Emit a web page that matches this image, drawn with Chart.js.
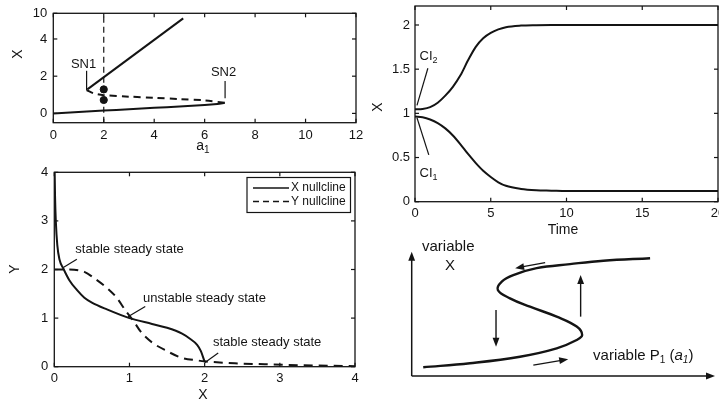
<!DOCTYPE html>
<html><head><meta charset="utf-8">
<script src="https://cdn.jsdelivr.net/npm/chart.js@4.4.0/dist/chart.umd.min.js"></script>
<style>
html,body{margin:0;padding:0;background:#fff;width:719px;height:405px;overflow:hidden;position:relative}
.p{position:absolute}
</style></head><body>
<div class="p" id="d1" style="left:0;top:0;width:370px;height:160px"><canvas id="k1"></canvas></div>
<div class="p" id="d3" style="left:0;top:160px;width:370px;height:245px"><canvas id="k3"></canvas></div>
<div class="p" id="d4" style="left:380px;top:235px;width:339px;height:170px"><canvas id="k4"></canvas></div>
<div class="p" id="d2" style="left:360px;top:0;width:380px;height:240px"><canvas id="k2"></canvas></div>
<script>
const FONT = "'Liberation Sans', Arial, Helvetica, sans-serif";
const INK = '#141414';
Chart.defaults.font.family = FONT;
Chart.defaults.color = INK;
Chart.defaults.animation = false;

// ---------- Panel 1: bifurcation diagram (X vs a1, broken axis above 4) ----------
const p1XTicks = [0, 2, 4, 6, 8, 10, 12];
const p1YTickValues = [0, 2, 4, 5.38];
const p1YTickLabels = ['0', '2', '4', '10'];
const p1UpperA = [1.35, 5.15];
const p1UpperX = [1.29, 5.11];
const p1UnstableA = [1.32, 1.6, 2, 3, 4, 5, 6, 6.8];
const p1UnstableX = [1.25, 1.08, 0.98, 0.9, 0.84, 0.77, 0.7, 0.57];
const p1LowerA = [0, 1, 2, 3, 4, 5, 6, 6.5, 6.8];
const p1LowerX = [0, 0.07, 0.15, 0.22, 0.3, 0.37, 0.45, 0.51, 0.57];
const p1DotsA = [2, 2];
const p1DotsX = [1.29, 0.72];
const p1MarkA = [2, 2];
const p1MarkX = [-0.5, 5.38];

// ---------- Panel 2: time courses ----------
const p2XTicks = [0, 5, 10, 15, 20];
const p2YTicks = [0, 0.5, 1, 1.5, 2];
const p2YTickLabels = ['0', '0.5', '1', '1.5', '2'];
const p2Time = [0, 0.5, 1, 1.5, 2, 2.5, 3, 3.5, 4, 4.5, 5, 5.5, 6, 7, 8, 9, 10, 12, 15, 20];
const p2CI2 = [1.045, 1.05, 1.07, 1.12, 1.2, 1.3, 1.43, 1.6, 1.75, 1.85, 1.91, 1.95, 1.975, 1.993, 1.998, 2.0, 2.0, 2.0, 2.0, 2.0];
const p2CI1 = [0.965, 0.955, 0.93, 0.89, 0.83, 0.75, 0.65, 0.54, 0.44, 0.35, 0.28, 0.22, 0.18, 0.145, 0.13, 0.125, 0.12, 0.12, 0.12, 0.12];

// ---------- Panel 3: nullclines ----------
const p3Ticks = [0, 1, 2, 3, 4];
const p3XnullX = [0.005, 0.01, 0.02, 0.04, 0.07, 0.12, 0.2, 0.3, 0.4, 0.5, 0.7, 1.0, 1.3, 1.5, 1.7, 1.8, 1.9, 1.95, 2.0];
const p3XnullY = [4.0, 3.5, 3.0, 2.5, 2.2, 2.02, 1.78, 1.58, 1.42, 1.32, 1.18, 1.0, 0.88, 0.8, 0.68, 0.58, 0.45, 0.32, 0.1];
const p3YnullX = [0, 0.2, 0.4, 0.55, 0.7, 0.83, 0.95, 1.05, 1.15, 1.3, 1.5, 1.7, 1.9, 2.0, 2.4, 2.8, 3.3, 4.0];
const p3YnullY = [2.0, 2.0, 1.95, 1.8, 1.62, 1.42, 1.15, 0.95, 0.72, 0.5, 0.32, 0.18, 0.13, 0.11, 0.07, 0.05, 0.03, 0.01];

// ---------- Panel 4: hysteresis schematic ----------
const p4CurveX = [0.38, 1.92, 3.57, 4.78, 5.44, 5.62, 5.44, 4.78, 3.90, 3.24, 2.84, 2.97, 3.35, 4.12, 5.22, 6.32, 7.86];
const p4CurveY = [0.28, 0.41, 0.62, 0.89, 1.16, 1.32, 1.59, 1.91, 2.23, 2.50, 2.77, 3.04, 3.25, 3.47, 3.60, 3.71, 3.79];
const p4ArrowFrom = [[4.40, 3.65], [5.57, 1.91], [2.78, 2.12], [4.01, 0.35]];
const p4ArrowTo = [[3.41, 3.47], [5.57, 3.25], [2.78, 0.94], [5.16, 0.54]];

const pts = (xs, ys) => xs.map((x, i) => ({x, y: ys[i]}));

function drawRich(ctx, parts, x, y, align, rot) {
  let w = 0;
  parts.forEach(p => { ctx.font = (p.it ? 'italic ' : '') + p.s + 'px ' + FONT; p.w = ctx.measureText(p.t).width; w += p.w; });
  ctx.save(); ctx.translate(x, y); if (rot) ctx.rotate(rot);
  let cx = align === 'center' ? -w / 2 : align === 'right' ? -w : 0;
  ctx.textBaseline = 'middle'; ctx.textAlign = 'left'; ctx.fillStyle = INK;
  parts.forEach(p => { ctx.font = (p.it ? 'italic ' : '') + p.s + 'px ' + FONT; ctx.fillText(p.t, cx, p.dy || 0); cx += p.w; });
  ctx.restore();
}
function line(ctx, x1, y1, x2, y2) { ctx.beginPath(); ctx.moveTo(x1, y1); ctx.lineTo(x2, y2); ctx.stroke(); }
function arrow(ctx, x1, y1, x2, y2, head, lw) {
  const a = Math.atan2(y2 - y1, x2 - x1);
  ctx.lineWidth = lw;
  line(ctx, x1, y1, x2 - Math.cos(a) * head * 0.6, y2 - Math.sin(a) * head * 0.6);
  ctx.beginPath();
  ctx.moveTo(x2, y2);
  ctx.lineTo(x2 - head * Math.cos(a) + head * 0.38 * Math.sin(a), y2 - head * Math.sin(a) - head * 0.38 * Math.cos(a));
  ctx.lineTo(x2 - head * Math.cos(a) - head * 0.38 * Math.sin(a), y2 - head * Math.sin(a) + head * 0.38 * Math.cos(a));
  ctx.closePath(); ctx.fill();
}

const deco = {
  id: 'deco',
  afterDatasetsDraw(chart, args, o) {
    const ctx = chart.ctx, ca = chart.chartArea;
    const xs = chart.scales.x, ys = chart.scales.y;
    const X = v => xs.getPixelForValue(v), Y = v => ys.getPixelForValue(v);
    ctx.save();
    ctx.strokeStyle = INK; ctx.fillStyle = INK; ctx.lineCap = 'butt';
    if (o.box) {
      ctx.lineWidth = 1.3;
      ctx.strokeRect(ca.left, ca.top, ca.width, ca.height);
      ctx.lineWidth = 1.2;
      xs.ticks.forEach(t => { const p = X(t.value); line(ctx, p, ca.bottom, p, ca.bottom - 4); line(ctx, p, ca.top, p, ca.top + 4); });
      ys.ticks.forEach(t => { const p = Y(t.value); line(ctx, ca.left, p, ca.left + 4, p); line(ctx, ca.right, p, ca.right - 4, p); });
    }
    if (o.axesArrows) {
      arrow(ctx, ca.left, ca.bottom, ca.left, ca.top, 9, 1.5);
      arrow(ctx, ca.left, ca.bottom, ca.right, ca.bottom, 9, 1.5);
    }
    (o.segs || []).forEach(s => { ctx.lineWidth = 1.2; line(ctx, X(s[0]), Y(s[1]), X(s[2]), Y(s[3])); });
    (o.arrowsFrom || []).forEach((f, i) => { const t = o.arrowsTo[i]; arrow(ctx, X(f[0]), Y(f[1]), X(t[0]), Y(t[1]), 9, 1.4); });
    (o.texts || []).forEach(t => {
      let x, y;
      if (t.px !== undefined) { x = t.px - o.off[0]; y = t.py - o.off[1]; } else { x = X(t.x); y = Y(t.y); }
      drawRich(ctx, t.parts, x, y, t.align || 'left', t.rot || 0);
    });
    if (o.legend) {
      const L = o.legend;
      const bx = L.left - o.off[0], by = L.top - o.off[1];
      ctx.fillStyle = '#fff'; ctx.fillRect(bx, by, L.w, L.h);
      ctx.lineWidth = 1.2; ctx.strokeStyle = INK; ctx.strokeRect(bx, by, L.w, L.h);
      chart.data.datasets.filter(d => d.legend).forEach((d, i) => {
        const ry = by + L.row0 + i * L.dy;
        ctx.lineWidth = 1.6; ctx.setLineDash(d.legendDash || []);
        line(ctx, bx + L.x0, ry, bx + L.x1, ry);
        ctx.setLineDash([]);
        drawRich(ctx, [{t: d.label, s: L.size}], bx + L.tx, ry, 'left');
      });
    }
    ctx.restore();
  }
};
Chart.register(deco);

function fixScale(size, isX) {
  return s => { if (isX) s.height = size; else s.width = size; s.paddingTop = s.paddingBottom = s.paddingLeft = s.paddingRight = 0; };
}
function setTicks(vals) { return s => { s.ticks = vals.map(v => ({value: v})); }; }
const line0 = {pointRadius: 0, borderColor: INK, borderWidth: 2, showLine: true, fill: false};

// ---------- Chart 1 ----------
new Chart(document.getElementById('k1'), {
  type: 'scatter',
  data: {datasets: [
    {...line0, data: pts(p1MarkA, p1MarkX), borderWidth: 1.2, borderDash: [6, 4]},
    {...line0, data: pts(p1UpperA, p1UpperX)},
    {...line0, data: pts(p1UnstableA, p1UnstableX), borderDash: [7, 5], tension: 0.3},
    {...line0, data: pts(p1LowerA, p1LowerX), tension: 0.3},
    {data: pts(p1DotsA, p1DotsX), pointRadius: 3.6, backgroundColor: INK, borderColor: INK, showLine: false}
  ]},
  options: {
    responsive: true, maintainAspectRatio: false,
    layout: {padding: {left: 0, top: 13.3, right: 14, bottom: 0}},
    plugins: {legend: {display: false}, tooltip: {enabled: false},
      deco: {box: true, off: [0, 0],
        segs: [[1.32, 2.29, 1.32, 1.25], [6.81, 1.74, 6.81, 0.81]],
        texts: [
          {x: 1.2, y: 2.65, align: 'center', parts: [{t: 'SN1', s: 13}]},
          {x: 6.75, y: 2.2, align: 'center', parts: [{t: 'SN2', s: 13}]},
          {px: 18, py: 54, align: 'center', rot: -Math.PI / 2, parts: [{t: 'X', s: 14}]},
          {px: 203, py: 146, align: 'center', parts: [{t: 'a', s: 14}, {t: '1', s: 10, dy: 4}]}
        ]}},
    scales: {
      x: {type: 'linear', min: 0, max: 12, afterBuildTicks: setTicks(p1XTicks), afterFit: fixScale(37.3, true),
        grid: {display: false, drawTicks: false}, border: {display: false}, ticks: {padding: 5, font: {size: 13}}},
      y: {type: 'linear', min: -0.5, max: 5.38, afterBuildTicks: setTicks(p1YTickValues), afterFit: fixScale(53.3, false),
        grid: {display: false, drawTicks: false}, border: {display: false},
        ticks: {padding: 6, font: {size: 13}, callback: (v, i) => p1YTickLabels[i]}}
    }
  }
});

// ---------- Chart 2 ----------
new Chart(document.getElementById('k2'), {
  type: 'scatter',
  data: {datasets: [
    {...line0, data: pts(p2Time, p2CI2), cubicInterpolationMode: 'monotone'},
    {...line0, data: pts(p2Time, p2CI1), cubicInterpolationMode: 'monotone'}
  ]},
  options: {
    responsive: true, maintainAspectRatio: false,
    layout: {padding: {left: 0, top: 6, right: 22, bottom: 0}},
    plugins: {legend: {display: false}, tooltip: {enabled: false},
      deco: {box: true, off: [360, 0],
        segs: [[0.85, 1.51, 0.13, 1.09], [0.91, 0.53, 0.13, 0.95]],
        texts: [
          {x: 0.3, y: 1.64, parts: [{t: 'CI', s: 13}, {t: '2', s: 9, dy: 4}]},
          {x: 0.3, y: 0.32, parts: [{t: 'CI', s: 13}, {t: '1', s: 9, dy: 4}]},
          {px: 378, py: 107, align: 'center', rot: -Math.PI / 2, parts: [{t: 'X', s: 14}]},
          {px: 563, py: 230, align: 'center', parts: [{t: 'Time', s: 14}]}
        ]}},
    scales: {
      x: {type: 'linear', min: 0, max: 20, afterBuildTicks: setTicks(p2XTicks), afterFit: fixScale(240 - 201.7, true),
        grid: {display: false, drawTicks: false}, border: {display: false}, ticks: {padding: 4, font: {size: 13}}},
      y: {type: 'linear', min: 0, max: 2.215, afterBuildTicks: setTicks(p2YTicks), afterFit: fixScale(55, false),
        grid: {display: false, drawTicks: false}, border: {display: false},
        ticks: {padding: 5, font: {size: 13}, callback: (v, i) => p2YTickLabels[i]}}
    }
  }
});

// ---------- Chart 3 ----------
new Chart(document.getElementById('k3'), {
  type: 'scatter',
  data: {datasets: [
    {...line0, label: 'X nullcline', legend: true, data: pts(p3XnullX, p3XnullY), cubicInterpolationMode: 'monotone'},
    {...line0, label: 'Y nullcline', legend: true, legendDash: [6, 4], data: pts(p3YnullX, p3YnullY), borderDash: [9, 6], cubicInterpolationMode: 'monotone'}
  ]},
  options: {
    responsive: true, maintainAspectRatio: false,
    layout: {padding: {left: 0, top: 12.3, right: 15, bottom: 0}},
    plugins: {legend: {display: false}, tooltip: {enabled: false},
      deco: {box: true, off: [0, 160],
        segs: [[0.30, 2.21, 0.12, 2.04], [1.21, 1.24, 0.98, 1.03], [2.18, 0.28, 2.0, 0.08]],
        texts: [
          {x: 0.28, y: 2.42, parts: [{t: 'stable steady state', s: 13}]},
          {x: 1.18, y: 1.40, parts: [{t: 'unstable steady state', s: 13}]},
          {x: 2.11, y: 0.49, parts: [{t: 'stable steady state', s: 13}]},
          {px: 15, py: 269, align: 'center', rot: -Math.PI / 2, parts: [{t: 'Y', s: 14}]},
          {px: 203, py: 395, align: 'center', parts: [{t: 'X', s: 14}]}
        ],
        legend: {left: 247, top: 177.5, w: 103.5, h: 35, row0: 10.5, dy: 13.5, x0: 6, x1: 42, tx: 44, size: 12}}},
    scales: {
      x: {type: 'linear', min: 0, max: 4, afterBuildTicks: setTicks(p3Ticks), afterFit: fixScale(245 - 206.7, true),
        grid: {display: false, drawTicks: false}, border: {display: false}, ticks: {padding: 4, font: {size: 13}}},
      y: {type: 'linear', min: 0, max: 4, afterBuildTicks: setTicks(p3Ticks), afterFit: fixScale(54.3, false),
        grid: {display: false, drawTicks: false}, border: {display: false}, ticks: {padding: 6, font: {size: 13}}}
    }
  }
});

// ---------- Chart 4 ----------
new Chart(document.getElementById('k4'), {
  type: 'scatter',
  data: {datasets: [
    {...line0, data: pts(p4CurveX, p4CurveY), borderWidth: 2.4, tension: 0.4}
  ]},
  options: {
    responsive: true, maintainAspectRatio: false,
    layout: {padding: {left: 31.7, top: 16.7, right: 4, bottom: 29}},
    plugins: {legend: {display: false}, tooltip: {enabled: false},
      deco: {axesArrows: true, off: [380, 235],
        arrowsFrom: p4ArrowFrom, arrowsTo: p4ArrowTo,
        texts: [
          {x: 0.34, y: 4.16, parts: [{t: 'variable', s: 15}]},
          {x: 1.26, y: 3.54, align: 'center', parts: [{t: 'X', s: 15}]},
          {x: 5.98, y: 0.64, parts: [{t: 'variable P', s: 15}, {t: '1', s: 10, dy: 4}, {t: ' (', s: 15}, {t: 'a', s: 15, it: true}, {t: '1', s: 10, dy: 4, it: true}, {t: ')', s: 15}]}
        ]}},
    scales: {
      x: {type: 'linear', min: 0, max: 10, display: false},
      y: {type: 'linear', min: 0, max: 4, display: false}
    }
  }
});
</script>
</body></html>
